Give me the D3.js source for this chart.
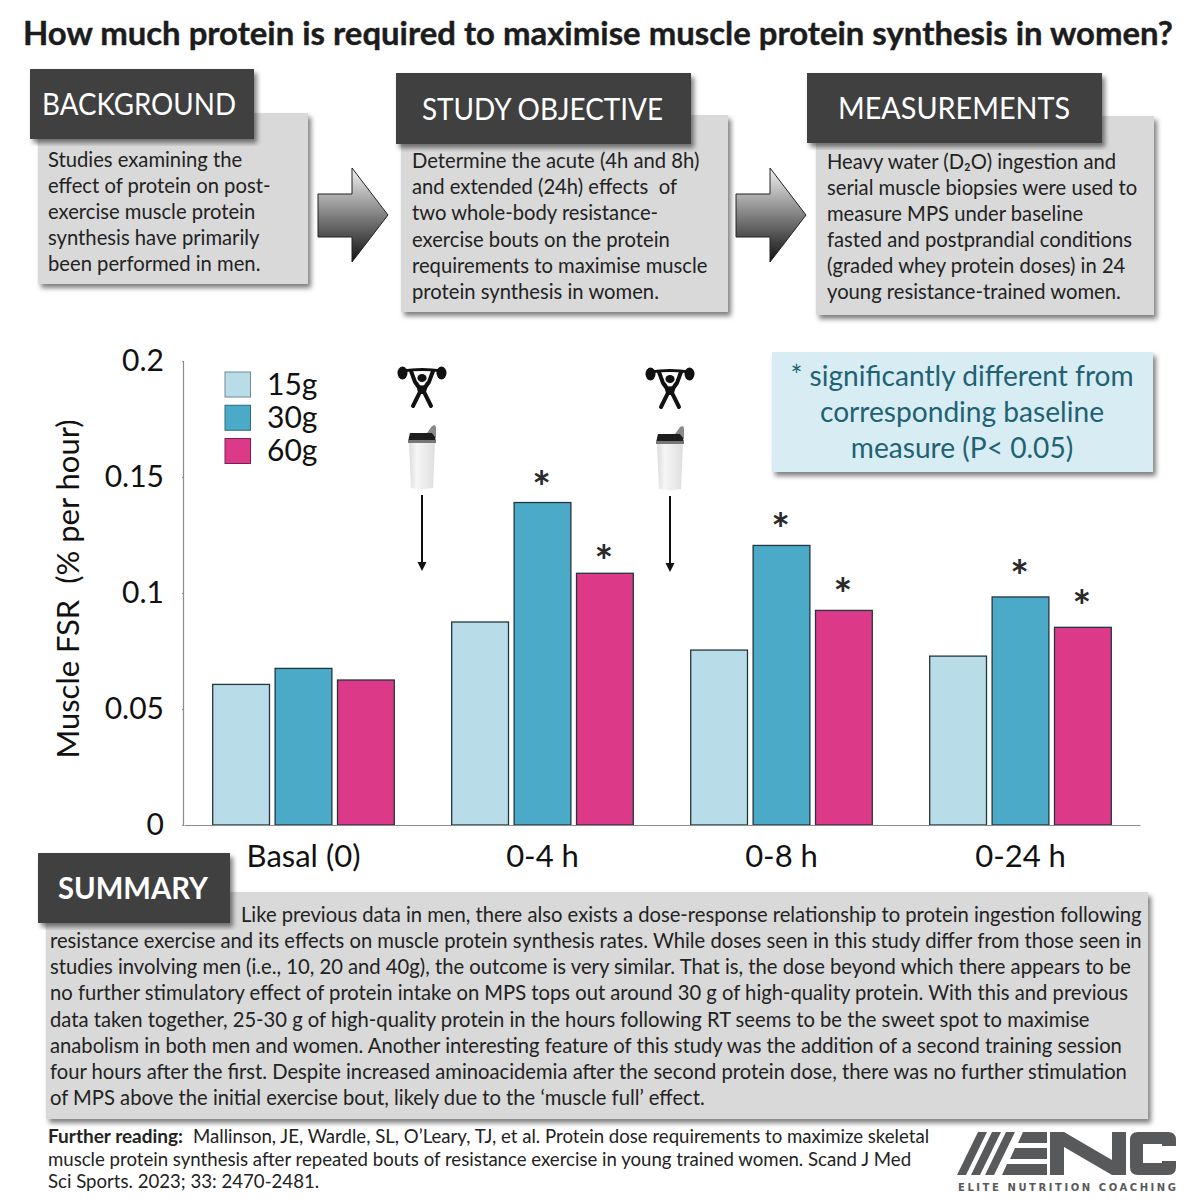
<!DOCTYPE html>
<html>
<head>
<meta charset="utf-8">
<script src="https://cdn.jsdelivr.net/npm/d3@7/dist/d3.min.js"></script>
<style>
  body { margin: 0; background: #fff; }
  svg { display: block; }
  text { font-family: Lato, "Open Sans", sans-serif; white-space: pre; }
</style>
</head>
<body>
<svg id="chart" width="1200" height="1200"></svg>
<script>
// chart data
const categories = ["Basal (0)", "0-4 h", "0-8 h", "0-24 h"];
const doses = ["15g", "30g", "60g"];
const values15 = [0.0606, 0.0875, 0.0754, 0.0728];
const values30 = [0.0675, 0.139, 0.1205, 0.0983];
const values60 = [0.0625, 0.1085, 0.0925, 0.0852];
// where the significance stars sit on the y axis (null = no star)
const stars15 = [null, null, null, null];
const stars30 = [null, 0.1491, 0.131, 0.1108];
const stars60 = [null, 0.1172, 0.103, 0.0978];
const yTicks = [0, 0.05, 0.1, 0.15, 0.2];
const doseColors = ["#b8dde8", "#4aaac8", "#dc3a88"];
const doseStrokes = ["#6f8a94", "#2f6a80", "#7a2350"];

const titleText = "How much protein is required to maximise muscle protein synthesis in women?";
const backgroundLines = ["Studies examining the", "effect of protein on post-", "exercise muscle protein", "synthesis have primarily", "been performed in men."];
const objectiveLines = ["Determine the acute (4h and 8h)", "and extended (24h) effects  of", "two whole-body resistance-", "exercise bouts on the protein", "requirements to maximise muscle", "protein synthesis in women."];
const measureLines = ["Heavy water (D\u2082O) ingestion and", "serial muscle biopsies were used to", "measure MPS under baseline", "fasted and postprandial conditions", "(graded whey protein doses) in 24", "young resistance-trained women."];
const summaryLines = [
  "Like previous data in men, there also exists a dose-response relationship to protein ingestion following",
  "resistance exercise and its effects on muscle protein synthesis rates. While doses seen in this study differ from those seen in",
  "studies involving men (i.e., 10, 20 and 40g), the outcome is very similar. That is, the dose beyond which there appears to be",
  "no further stimulatory effect of protein intake on MPS tops out around 30 g of high-quality protein. With this and previous",
  "data taken together, 25-30 g of high-quality protein in the hours following RT seems to be the sweet spot to maximise",
  "anabolism in both men and women. Another interesting feature of this study was the addition of a second training session",
  "four hours after the first. Despite increased aminoacidemia after the second protein dose, there was no further stimulation",
  "of MPS above the initial exercise bout, likely due to the \u2018muscle full\u2019 effect."
];
const noteLines = ["* significantly different from", "corresponding baseline", "measure (P< 0.05)"];
const readingLines = [
  "Mallinson, JE, Wardle, SL, O\u2019Leary, TJ, et al. Protein dose requirements to maximize skeletal",
  "muscle protein synthesis after repeated bouts of resistance exercise in young trained women. Scand J Med",
  "Sci Sports. 2023; 33: 2470-2481."
];

const svg = d3.select("#chart");
const defs = svg.append("defs");

const shadow = defs.append("filter").attr("id", "shadow")
  .attr("x", "-5%").attr("y", "-5%").attr("width", "112%").attr("height", "115%");
shadow.append("feDropShadow").attr("dx", 3).attr("dy", 4).attr("stdDeviation", 2.5)
  .attr("flood-color", "#000").attr("flood-opacity", 0.5);

const arrowGrad = defs.append("linearGradient").attr("id", "arrowGrad")
  .attr("x1", 0).attr("y1", 0).attr("x2", 0).attr("y2", 1);
arrowGrad.append("stop").attr("offset", "0%").attr("stop-color", "#f2f2f2");
arrowGrad.append("stop").attr("offset", "100%").attr("stop-color", "#111");

const bottleGrad = defs.append("linearGradient").attr("id", "bottleGrad");
bottleGrad.append("stop").attr("offset", "0%").attr("stop-color", "#dcdcdc");
bottleGrad.append("stop").attr("offset", "30%").attr("stop-color", "#f6f6f6");
bottleGrad.append("stop").attr("offset", "100%").attr("stop-color", "#dedede");

svg.append("text").attr("x", 23).attr("y", 45).attr("font-size", 32).attr("font-weight", 700)
  .attr("fill", "#1c1c1c").attr("stroke", "#1c1c1c").attr("stroke-width", 0.4)
  .attr("textLength", 1150).attr("lengthAdjust", "spacingAndGlyphs").text(titleText);

function greyBox(x, y, w, h) {
  svg.append("rect").attr("x", x).attr("y", y).attr("width", w).attr("height", h)
    .attr("fill", "#d9d9d9").attr("filter", "url(#shadow)");
}

function header(label, x, y, w, h, textX, textW, weight) {
  svg.append("rect").attr("x", x).attr("y", y).attr("width", w).attr("height", h)
    .attr("fill", "#404040").attr("filter", "url(#shadow)");
  svg.append("text").attr("x", textX).attr("y", y + h / 2 + 11)
    .attr("font-size", 31).attr("font-weight", weight || 400)
    .attr("textLength", textW).attr("lengthAdjust", "spacingAndGlyphs")
    .attr("fill", "#fff").text(label);
}

function textBlock(lines, x, y, lineHeight, size, stretch, fill, anchor) {
  const g = svg.append("g").attr("transform", `translate(${x},${y}) scale(${stretch},1)`);
  lines.forEach((line, i) => {
    g.append("text").attr("y", i * lineHeight).attr("font-size", size)
      .attr("fill", fill || "#222").attr("text-anchor", anchor || "start").text(line);
  });
}

function bigArrow(x) {
  svg.append("path").attr("transform", `translate(${x},168)`)
    .attr("d", d3.line()([[0, 26], [34, 26], [34, 0], [70, 47], [34, 94], [34, 69], [0, 69]]) + "Z")
    .attr("fill", "url(#arrowGrad)").attr("stroke", "#222").attr("stroke-width", 1);
}

greyBox(38, 113, 270, 171);
header("BACKGROUND", 30, 69, 224, 70, 42, 194);
textBlock(backgroundLines, 48, 167, 26, 21.5, 0.94);
bigArrow(318);

greyBox(401, 115, 327, 197);
header("STUDY OBJECTIVE", 396, 73, 295, 71, 422, 241);
textBlock(objectiveLines, 412, 168, 26.2, 21.5, 0.94);
bigArrow(736);

greyBox(816, 116, 338, 199);
header("MEASUREMENTS", 807, 73, 295, 70, 838, 232);
textBlock(measureLines, 827, 169, 26, 21.5, 0.94);

// bar chart
const x = d3.scaleBand().domain(categories).range([184, 1140]);
const xDose = d3.scaleBand().domain(doses).range([0, x.bandwidth()]).paddingInner(0.09).paddingOuter(0.46);
const y = d3.scaleLinear().domain([0, 0.2]).range([825, 361]);

const series = [values15, values30, values60];
const stars = [stars15, stars30, stars60];

const groups = svg.append("g").selectAll("g").data(doses).join("g")
  .attr("fill", (d, i) => doseColors[i]);
groups.selectAll("rect").data((d, i) => series[i].map((v, c) => ({ dose: d, cat: categories[c], v })))
  .join("rect")
  .attr("x", d => x(d.cat) + xDose(d.dose))
  .attr("y", d => y(d.v))
  .attr("width", xDose.bandwidth())
  .attr("height", d => y(0) - y(d.v))
  .attr("stroke", "#23363f").attr("stroke-width", 1.3);

groups.selectAll("text").data((d, i) => stars[i].map((s, c) => ({ dose: d, cat: categories[c], s })).filter(d => d.s !== null))
  .join("text")
  .attr("x", d => x(d.cat) + xDose(d.dose) + xDose.bandwidth() / 2 - 1)
  .attr("y", d => y(d.s) + 24)
  .attr("text-anchor", "middle").attr("font-size", 44).attr("font-weight", 700).attr("fill", "#2a2a2a")
  .text("*");

const yAxis = svg.append("g").attr("transform", "translate(183,0)")
  .call(d3.axisLeft(y).tickValues(yTicks).tickFormat(d3.format("~g")).tickSize(1).tickPadding(18));
const xAxis = svg.append("g").attr("transform", "translate(0,825)")
  .call(d3.axisBottom(x).tickSize(0).tickPadding(20));
[yAxis, xAxis].forEach(a => {
  a.selectAll(".domain, line").attr("stroke", "#8c8c8c").attr("stroke-width", 1.2);
  a.selectAll("text").attr("font-size", 30).attr("fill", "#111").attr("font-family", "Lato");
});
xAxis.selectAll("text").attr("font-size", 31);

svg.append("text").attr("transform", "translate(79,589) rotate(-90)")
  .attr("text-anchor", "middle").attr("font-size", 31).attr("fill", "#111")
  .text("Muscle FSR  (% per hour)");

// legend
const legendY = d3.scalePoint().domain(doses).range([384.5, 451]);
const legend = svg.append("g").selectAll("g").data(doses).join("g")
  .attr("transform", d => `translate(225,${legendY(d)})`);
legend.append("rect").attr("y", -12.5).attr("width", 25.5).attr("height", 25)
  .attr("fill", (d, i) => doseColors[i]).attr("stroke", (d, i) => doseStrokes[i]).attr("stroke-width", 1);
legend.append("text").attr("x", 42).attr("y", 10).attr("font-size", 30).attr("fill", "#111").text(d => d);

// lifter, shaker and arrow markers
function workoutMarker(cx, top) {
  const g = svg.append("g").attr("transform", `translate(${cx},${top})`);
  const ink = "#111";
  g.append("path").attr("d", "M-20,5 Q0,2 20,5").attr("fill", "none").attr("stroke", ink).attr("stroke-width", 3);
  [[-19.5, 7], [19.5, 7]].forEach(p => g.append("ellipse").attr("cx", p[0]).attr("cy", p[1])
    .attr("rx", 5).attr("ry", 6.5).attr("fill", ink));
  g.append("ellipse").attr("cx", 0).attr("cy", 12).attr("rx", 4.6).attr("ry", 4).attr("fill", ink);
  g.append("path").attr("d", "M-11,5 L-7,16 Q-3,20 -2,26 L-9,40 M11,5 L7,16 Q3,20 2,26 L9,40")
    .attr("fill", "none").attr("stroke", ink).attr("stroke-width", 4).attr("stroke-linecap", "round");
  g.append("path").attr("d", "M-7,17 Q0,22 7,17 L2,28 L-2,28 Z").attr("fill", ink);

  g.append("path").attr("d", "M5,67 L10,60 L13,59 L14,61 L14,72 L9,72 Z").attr("fill", "#8a8a8a");
  g.append("path").attr("d", "M-12,67 L10,67 L13,71 L14,76 L-14,76 L-13,71 Z").attr("fill", "#1d1d1d");
  g.append("rect").attr("x", -14).attr("y", 74).attr("width", 28).attr("height", 3).attr("fill", "#777");
  g.append("path").attr("d", "M-13,77 L13,77 L11,122 Q0,124 -11,122 Z").attr("fill", "url(#bottleGrad)");

  g.append("line").attr("x1", 0).attr("x2", 0).attr("y1", 129).attr("y2", 198)
    .attr("stroke", ink).attr("stroke-width", 2);
  g.append("path").attr("d", "M-4.5,196 L4.5,196 L0,205 Z").attr("fill", ink);
}
workoutMarker(422, 366);
workoutMarker(670, 367);

// significance note
svg.append("rect").attr("x", 772).attr("y", 352).attr("width", 381).attr("height", 120)
  .attr("fill", "#d8edf3").attr("filter", "url(#shadow)");
textBlock(noteLines, 962, 386, 36, 29, 0.97, "#1f6274", "middle");

// summary
greyBox(46, 892, 1102, 227);
header("SUMMARY", 38, 853, 192, 70, 58, 150, 700);
textBlock(summaryLines.slice(0, 1), 241, 922, 26, 21, 0.962);
textBlock(summaryLines.slice(1), 50, 948, 26.2, 21, 0.962);

// further reading
svg.append("text").attr("x", 48).attr("y", 1143).attr("font-size", 19).attr("font-weight", 700)
  .attr("textLength", 135).attr("lengthAdjust", "spacingAndGlyphs").attr("fill", "#222").text("Further reading:");
textBlock(readingLines.slice(0, 1), 193, 1143, 22, 19, 0.98);
textBlock(readingLines.slice(1), 48, 1166, 22, 19, 0.98);

// ENC logo
const logo = svg.append("g").attr("fill", "#58595b");
[0, 14, 28].forEach(s => logo.append("path")
  .attr("d", `M${957 + s},1175 L${978 + s},1132 L${987 + s},1132 L${966 + s},1175 Z`));
logo.append("path").attr("d", "M1002,1175 L1007,1164 L1047,1164 L1047,1175 Z M1010,1159 L1015,1148 L1047,1148 L1047,1159 Z M1018,1143 L1023,1132 L1047,1132 L1047,1143 Z");
logo.append("path").attr("d", "M1050,1175 L1050,1132 L1064,1132 L1112,1160 L1112,1132 L1126,1132 L1126,1175 L1112,1175 L1064,1147 L1064,1175 Z");
logo.append("path").attr("d", "M1176,1146 L1176,1140 Q1176,1132 1168,1132 L1138,1132 Q1130,1132 1130,1140 L1130,1167 Q1130,1175 1138,1175 L1168,1175 Q1176,1175 1176,1167 L1176,1161 L1162,1161 L1162,1163 L1143,1163 L1143,1144 L1162,1144 L1162,1146 Z");
svg.append("text").attr("x", 958).attr("y", 1191).attr("font-size", 10).attr("font-weight", 700)
  .style("font-family", "'DejaVu Sans'").attr("fill", "#58595b")
  .attr("textLength", 218).attr("lengthAdjust", "spacing").text("ELITE NUTRITION COACHING");
</script>
</body>
</html>
